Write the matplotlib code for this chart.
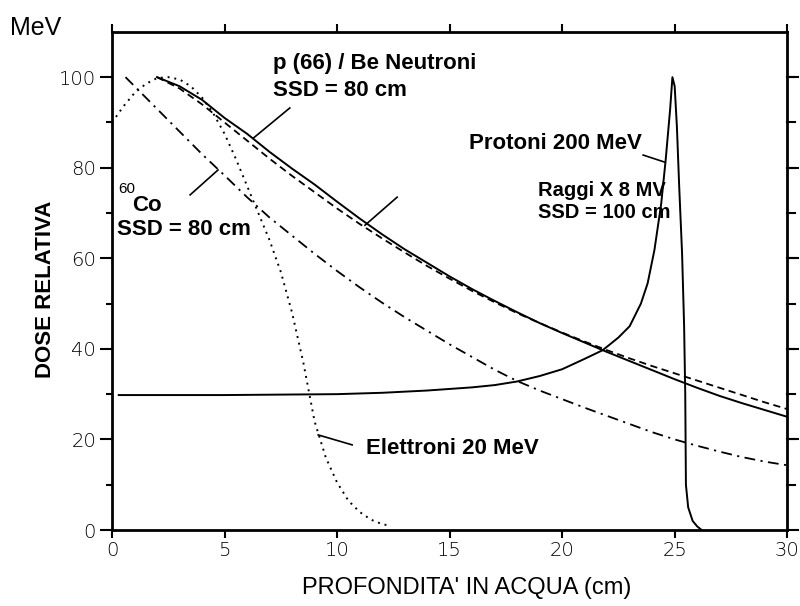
import numpy as np
import matplotlib.pyplot as plt

# profondita' in acqua (cm) e dose relativa (%)
neut_x = [2, 3, 4, 5, 6, 7, 8, 9, 10, 11, 12, 13, 14, 15, 16, 17, 18, 19, 20,
          21, 22, 23, 24, 25, 26, 27, 28, 29, 30]
neut_y = [100, 98, 95, 91, 87.5, 83.5, 79.8, 76.3, 72.5, 68.8, 65.3, 62, 59, 56,
          53.2, 50.6, 48.1, 45.7, 43.5, 41.4, 39.3, 37.3, 35.3, 33.3, 31.4,
          29.6, 28, 26.5, 25]

xray_x = neut_x
xray_y = [100, 97.5, 94, 90, 86, 82, 78.2, 74.6, 71, 67.6, 64.4, 61.3, 58.3, 55.5,
          52.8, 50.3, 47.9, 45.7, 43.6, 41.6, 39.7, 37.9, 36.2, 34.6, 33,
          31.4, 29.8, 28.2, 26.7]

co_x = [0.6, 2, 3, 4, 5, 6, 7, 8, 9, 10, 11, 12, 13, 14, 15, 16, 17, 18, 19, 20,
        21, 22, 23, 24, 25, 26, 27, 28, 29, 30]
co_y = [100, 93, 88, 83, 78.3, 73.5, 69, 65, 61, 57.2, 53.6, 50.2, 47, 44,
        41, 38.2, 35.4, 32.9, 30.8, 28.9, 27, 25.2, 23.4, 21.6, 20, 18.6,
        17.3, 16.1, 15.1, 14.3]

el_x = [0, 0.5, 1, 1.5, 2, 2.5, 3, 3.5, 4, 4.5, 5, 5.5, 6, 6.5, 7, 7.5, 8, 8.5,
        9, 9.5, 10, 10.5, 11, 11.5, 12, 12.3]
el_y = [90, 93.5, 96.5, 98.5, 99.8, 100, 99.5, 98, 95.5, 92, 87.5, 82, 76, 70,
        64, 57, 48, 37, 24, 16, 10.5, 6.5, 4, 2.3, 1.3, 1]

pr_x = [0.3, 5, 10, 12, 14, 16, 17, 18, 19, 20, 21, 21.8, 22.5, 23, 23.5, 23.8,
        24.1, 24.4, 24.6, 24.8, 24.9, 25.0, 25.1, 25.2, 25.33, 25.42, 25.47,
        25.5, 25.6, 25.8, 26.0, 26.2]
pr_y = [29.8, 29.8, 30, 30.3, 30.8, 31.5, 32, 32.8, 34, 35.5, 37.8, 39.7, 42.5,
        45, 50, 54.5, 61.8, 72, 81.7, 93, 100, 98, 89, 76, 61, 45, 30, 10, 5,
        2, 0.8, 0]

xticks = [0, 5, 10, 15, 20, 25, 30]
yticks = [0, 20, 40, 60, 80, 100]

fig = plt.figure(figsize=(8, 6.06), dpi=100)
ax = fig.add_axes([0.14, 0.1254, 0.844, 0.822])

ax.plot(neut_x, neut_y, color='black', lw=1.4)
ax.plot(xray_x, xray_y, color='black', lw=1.3, ls=(0, (4, 2.5)))
ax.plot(co_x, co_y, color='black', lw=1.3, ls=(0, (6, 3, 1.2, 3)))
ax.plot(el_x, el_y, color='black', lw=1.4, ls=(0, (1, 2.5)))
ax.plot(pr_x, pr_y, color='black', lw=1.4)

ax.set_xlim(0, 30)
ax.set_ylim(0, 110)
ax.set_xticks(xticks)
ax.set_yticks(yticks)
ax.set_yticks(np.arange(10, 110, 10), minor=True)
ax.tick_params(which='both', direction='out', width=1.5, labelsize=14, top=True, right=True)
ax.tick_params(axis='y', which='major', length=8.5, pad=3)
ax.tick_params(axis='y', which='minor', length=4, right=False)
ax.tick_params(axis='x', which='major', length=6, pad=2)
for lab in ax.get_xticklabels() + ax.get_yticklabels():
    lab.set_fontfamily('DejaVu Sans')
    lab.set_fontweight('light')
# tacche a destra ogni 10
for v in np.arange(10, 110, 10):
    ax.plot([1, 1.012], [v, v], transform=ax.get_yaxis_transform(), color='black',
            lw=1.5, clip_on=False)
for s in ax.spines.values():
    s.set_linewidth(2)

lbl = dict(family='Liberation Sans', weight='bold', fontsize=16, va='center')
ax.text(7.16, 103.1, 'p (66) / Be Neutroni', **lbl)
ax.text(7.16, 97.1, 'SSD = 80 cm', **lbl)
ax.text(15.87, 85.3, 'Protoni 200 MeV', **lbl)
ax.text(18.93, 74.9, 'Raggi X 8 MV', **dict(lbl, fontsize=14.5))
ax.text(18.93, 70.1, 'SSD = 100 cm', **dict(lbl, fontsize=14.5))
ax.text(0.27, 75.2, '60', family='Liberation Sans', fontsize=11, va='center')
ax.text(0.9, 71.7, 'Co', **lbl)
ax.text(0.22, 66.4, 'SSD = 80 cm', **lbl)
ax.text(11.29, 18.1, 'Elettroni 20 MeV', **lbl)

# linee di richiamo
ax.plot([7.9, 6.27], [93.2, 86.5], color='black', lw=1.2)
ax.plot([23.6, 24.58], [82.8, 81.2], color='black', lw=1.2)
ax.plot([12.67, 11.24], [73.5, 67.3], color='black', lw=1.2)
ax.plot([3.47, 4.71], [74, 79.5], color='black', lw=1.2)
ax.plot([10.67, 9.16], [18.8, 21], color='black', lw=1.2)

fig.text(10 / 800, 1 - 28 / 606, 'MeV', family='Liberation Sans', fontsize=18, va='center')
fig.text(46 / 800, 1 - 289 / 606, 'DOSE RELATIVA', family='Liberation Sans', weight='bold',
         fontsize=16, rotation=90, ha='center', va='center')
fig.text(467 / 800, 1 - 588 / 606, "PROFONDITA' IN ACQUA (cm)", family='Liberation Sans',
         fontsize=17, ha='center', va='center')

fig.savefig('out.png', dpi=100)
